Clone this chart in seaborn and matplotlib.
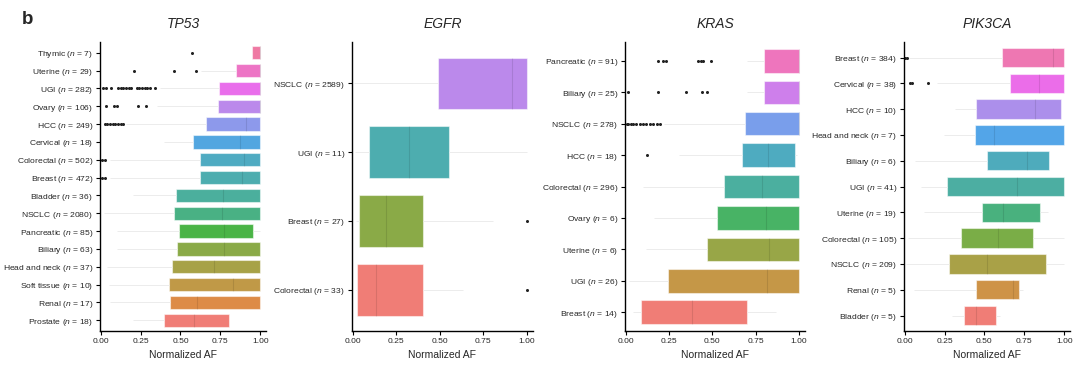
import matplotlib
matplotlib.use('Agg')
import numpy as np
import pandas as pd
import matplotlib.pyplot as plt
import seaborn as sns

# ---- data (normalized AF box summaries) ----
# TP53
tp53_cancer = ['Thymic', 'Uterine', 'UGI', 'Ovary', 'HCC', 'Cervical', 'Colorectal', 'Breast',
               'Bladder', 'NSCLC', 'Pancreatic', 'Biliary', 'Head and neck', 'Soft tissue', 'Renal', 'Prostate']
tp53_n = [7, 29, 282, 106, 249, 18, 502, 472, 36, 2080, 85, 63, 37, 10, 17, 18]
tp53_q1 = [0.946, 0.846, 0.744, 0.735, 0.66, 0.577, 0.62, 0.62, 0.475, 0.458, 0.492, 0.477, 0.45, 0.427, 0.437, 0.394]
tp53_med = [1.0, 1.0, 1.0, 1.0, 0.91, 0.871, 0.90, 0.883, 0.767, 0.76, 0.771, 0.771, 0.71, 0.827, 0.604, 0.585]
tp53_q3 = [1.0, 1.0, 1.0, 1.0, 1.0, 1.0, 1.0, 1.0, 1.0, 1.0, 0.952, 1.0, 1.0, 1.0, 1.0, 0.804]
tp53_lo = [0.946, 0.63, 0.37, 0.35, 0.16, 0.40, 0.06, 0.06, 0.20, 0.02, 0.10, 0.10, 0.04, 0.05, 0.06, 0.20]
tp53_hi = [1.0, 1.0, 1.0, 1.0, 1.0, 1.0, 1.0, 1.0, 1.0, 1.0, 1.0, 1.0, 1.0, 1.0, 1.0, 0.804]
tp53_out = [[0.573], [0.21, 0.458, 0.598],
            [0.017, 0.033, 0.062, 0.108, 0.125, 0.142, 0.158, 0.175, 0.188, 0.225, 0.242, 0.258, 0.275, 0.292, 0.308, 0.34],
            [0.031, 0.083, 0.104, 0.235, 0.285],
            [0.025, 0.04, 0.06, 0.075, 0.09, 0.11, 0.125, 0.14],
            [], [0.01, 0.025], [0.01, 0.03], [], [], [], [], [], [], [], []]

# EGFR
egfr_cancer = ['NSCLC', 'UGI', 'Breast', 'Colorectal']
egfr_n = [2589, 11, 27, 33]
egfr_q1 = [0.491, 0.095, 0.036, 0.026]
egfr_med = [0.916, 0.321, 0.189, 0.135]
egfr_q3 = [1.0, 0.553, 0.405, 0.405]
egfr_lo = [0.01, 0.013, 0.02, 0.02]
egfr_hi = [1.0, 1.0, 0.807, 0.635]
egfr_out = [[], [], [1.0], [1.0]]

# KRAS
kras_cancer = ['Pancreatic', 'Biliary', 'NSCLC', 'HCC', 'Colorectal', 'Ovary', 'Uterine', 'UGI', 'Breast']
kras_n = [91, 25, 278, 18, 296, 6, 6, 26, 14]
kras_q1 = [0.80, 0.80, 0.688, 0.67, 0.568, 0.526, 0.472, 0.243, 0.087]
kras_med = [1.0, 1.0, 1.0, 0.823, 0.79, 0.813, 0.829, 0.819, 0.385]
kras_q3 = [1.0, 1.0, 1.0, 0.977, 1.0, 1.0, 1.0, 1.0, 0.699]
kras_lo = [0.70, 0.70, 0.24, 0.31, 0.10, 0.164, 0.116, 0.02, 0.04]
kras_hi = [1.0, 1.0, 1.0, 0.99, 1.0, 1.0, 1.0, 1.0, 0.867]
kras_out = [[0.187, 0.216, 0.235, 0.418, 0.434, 0.449, 0.491],
            [0.015, 0.189, 0.349, 0.443, 0.472],
            [0.006, 0.015, 0.03, 0.045, 0.06, 0.08, 0.1, 0.12, 0.14, 0.16, 0.18, 0.2, 0.22],
            [0.123], [], [], [], [], []]

# PIK3CA
pik3ca_cancer = ['Breast', 'Cervical', 'HCC', 'Head and neck', 'Biliary', 'UGI', 'Uterine',
                 'Colorectal', 'NSCLC', 'Renal', 'Bladder']
pik3ca_n = [384, 38, 10, 7, 6, 41, 19, 105, 209, 5, 5]
pik3ca_q1 = [0.609, 0.658, 0.45, 0.443, 0.516, 0.267, 0.482, 0.354, 0.281, 0.445, 0.374]
pik3ca_med = [0.93, 0.839, 0.818, 0.559, 0.768, 0.706, 0.619, 0.588, 0.517, 0.679, 0.45]
pik3ca_q3 = [1.0, 1.0, 0.983, 1.0, 0.905, 1.0, 0.846, 0.807, 0.886, 0.718, 0.57]
pik3ca_lo = [0.03, 0.20, 0.317, 0.244, 0.068, 0.10, 0.12, 0.02, 0.01, 0.056, 0.30]
pik3ca_hi = [1.0, 1.0, 0.983, 1.0, 0.905, 1.0, 0.90, 1.0, 1.0, 0.743, 0.60]
pik3ca_out = [[0.005, 0.016], [0.031, 0.048, 0.145], [], [], [], [], [], [], [], [], []]


def expand(q1, med, q3, lo, hi, out):
    # sample whose quartiles / whiskers / fliers reproduce the read summary
    lows = [v for v in out if v < q1] + [lo]
    highs = [hi] + [v for v in out if v >= q1]
    m = max(len(lows), len(highs))
    lows += [lo] * (m - len(lows))
    highs += [hi] * (m - len(highs))
    a = m + 2
    return lows + [q1] * a + [med] + [q3] * a + highs


def make_df(cancer, n, q1, med, q3, lo, hi, out):
    rows = []
    labels = []
    for i in range(len(cancer)):
        lab = cancer[i] + r' ($\mathit{n}$ = ' + str(n[i]) + ')'
        labels.append(lab)
        for v in expand(q1[i], med[i], q3[i], lo[i], hi[i], out[i]):
            rows.append({'label': lab, 'af': v})
    return pd.DataFrame(rows), labels


panels = [
    ('TP53', make_df(tp53_cancer, tp53_n, tp53_q1, tp53_med, tp53_q3, tp53_lo, tp53_hi, tp53_out)),
    ('EGFR', make_df(egfr_cancer, egfr_n, egfr_q1, egfr_med, egfr_q3, egfr_lo, egfr_hi, egfr_out)),
    ('KRAS', make_df(kras_cancer, kras_n, kras_q1, kras_med, kras_q3, kras_lo, kras_hi, kras_out)),
    ('PIK3CA', make_df(pik3ca_cancer, pik3ca_n, pik3ca_q1, pik3ca_med, pik3ca_q3, pik3ca_lo, pik3ca_hi, pik3ca_out)),
]

sns.set_style('white')
plt.rcParams['font.family'] = ['Liberation Sans', 'DejaVu Sans']
plt.rcParams['mathtext.fontset'] = 'custom'
plt.rcParams['mathtext.it'] = 'Liberation Sans:italic'
plt.rcParams['mathtext.rm'] = 'Liberation Sans'

fig = plt.figure(figsize=(10.8, 3.69), dpi=100)
lefts = [0.0926, 0.3259, 0.5787, 0.837]
widths = [0.1537, 0.1676, 0.1667, 0.1537]

for (gene, (df, labels)), left, w in zip(panels, lefts, widths):
    ax = fig.add_axes([left, 0.103, w, 0.783])
    pal = sns.husl_palette(len(labels), h=15 / 360, s=0.8, l=0.66)[::-1]
    sns.boxplot(data=df, x='af', y='label', hue='label', order=labels, hue_order=labels,
                palette=pal, legend=False, ax=ax, width=0.75, saturation=1,
                linecolor=(1, 1, 1, 0.5), linewidth=0.8, showcaps=False,
                whiskerprops={'color': '#ececec', 'linewidth': 0.7},
                medianprops={'color': (0, 0, 0, 0.1), 'linewidth': 0.8},
                flierprops={'marker': 'o', 'markersize': 2.2, 'markerfacecolor': '#222222',
                            'markeredgecolor': 'none'})
    ax.set_xlim(-0.004, 1.036)
    ax.set_ylim(len(labels) - 1 + 0.6, -0.6)
    ax.set_xticks([0, 0.25, 0.5, 0.75, 1.0])
    ax.set_xticklabels(['0.00', '0.25', '0.50', '0.75', '1.00'])
    ax.tick_params(axis='both', labelsize=6.1, length=3, width=0.8, color='black', pad=2,
                   left=True, bottom=True)
    ax.set_ylabel('')
    ax.set_xlabel('Normalized AF', fontsize=7.5, labelpad=4)
    ax.set_title(gene, fontsize=10, style='italic', pad=10)
    sns.despine(ax=ax)
    for s in ['left', 'bottom']:
        ax.spines[s].set_color('black')
        ax.spines[s].set_linewidth(1.0)

fig.text(0.02, 0.935, 'b', fontsize=13.5, fontweight='bold')
fig.savefig('out.png', dpi=100)
